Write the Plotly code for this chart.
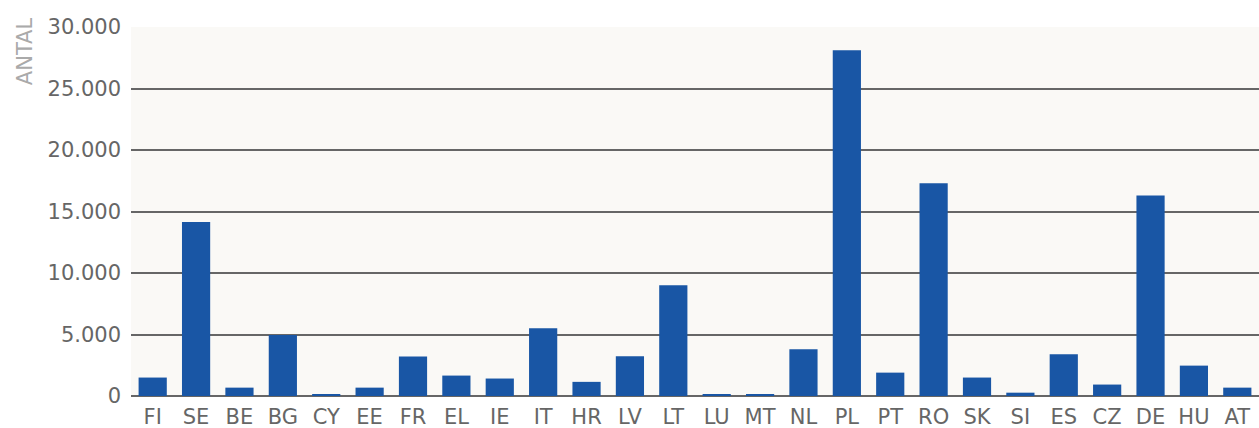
import plotly.graph_objects as go

countries = ["FI", "SE", "BE", "BG", "CY", "EE", "FR", "EL", "IE", "IT", "HR", "LV", "LT",
             "LU", "MT", "NL", "PL", "PT", "RO", "SK", "SI", "ES", "CZ", "DE", "HU", "AT"]
antal = [1500, 14150, 680, 4950, 120, 680, 3220, 1660, 1420, 5510, 1150, 3240, 9000,
         110, 110, 3800, 28100, 1900, 17300, 1500, 270, 3400, 930, 16300, 2470, 680]
y_ticks = [0, 5000, 10000, 15000, 20000, 25000, 30000]

fig = go.Figure()
fig.add_trace(go.Bar(
    x=countries, y=antal,
    marker=dict(color="#1956A5", line=dict(width=0)),
    hoverinfo="x+y",
))

font_family = "DejaVu Sans, Verdana, sans-serif"
fig.update_layout(
    width=1259, height=428,
    margin=dict(l=131, r=0, t=27, b=32, autoexpand=False),
    paper_bgcolor="white",
    plot_bgcolor="#FAF9F6",
    separators=",.",
    bargap=0.35,
    showlegend=False,
    font=dict(family=font_family, size=21, color="#666666"),
    xaxis=dict(showgrid=False, showline=False, ticks="", automargin=False,
               tickfont=dict(size=21, color="#666666"), ticklabelstandoff=6),
    yaxis=dict(range=[0, 30000], tickvals=y_ticks, tickformat=",d", automargin=False,
               showgrid=True, gridcolor="#666666", gridwidth=1.5,
               zeroline=True, zerolinecolor="#666666", zerolinewidth=1.5,
               showline=False, ticks="", ticklabelstandoff=9,
               tickfont=dict(size=21, color="#666666")),
    annotations=[dict(
        text="ANTAL", textangle=-90, showarrow=False,
        xref="paper", yref="paper",
        x=-0.094, y=1.032, xanchor="center", yanchor="top",
        font=dict(family=font_family, size=21, color="#AAAAAA"),
    )],
)

fig.write_html("out.html", config={"displayModeBar": False},
               post_script="document.body.style.margin='0';")
